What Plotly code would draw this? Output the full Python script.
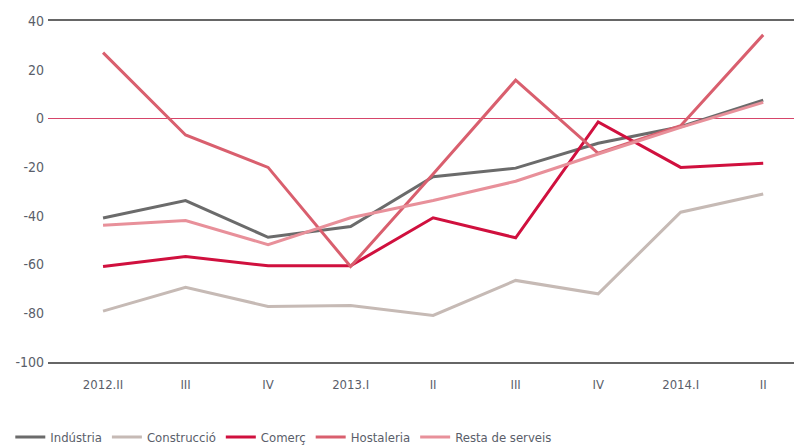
import plotly.graph_objects as go

categories = ["2012.II", "III", "IV", "2013.I", "II", "III", "IV", "2014.I", "II"]
tick_labels = ["2012.II", "III", "IV", "2013.I", "II", "III", "IV", "2014.I", "II"]
y_ticks = [40, 20, 0, -20, -40, -60, -80, -100]
y_tick_labels = ["40", "20", "0", "-20", "-40", "-60", "-80", "-100"]

industria = [-40.9, -33.7, -48.8, -44.4, -23.9, -20.4, -10.2, -3.4, 7.5]
construccio = [-79.1, -69.3, -77.2, -76.8, -80.9, -66.5, -72.0, -38.5, -31.0]
comerc = [-60.8, -56.7, -60.5, -60.5, -40.8, -49.0, -1.4, -20.1, -18.4]
hostaleria = [27.0, -6.8, -20.1, -60.8, -22.8, 15.7, -14.3, -3.0, 34.3]
resta = [-43.9, -41.9, -51.8, -40.8, -33.7, -25.8, -14.6, -3.7, 6.6]

series = [
    ("Indústria", industria, "#6b6b6b"),
    ("Construcció", construccio, "#c6bab5"),
    ("Comerç", comerc, "#d0103e"),
    ("Hostaleria", hostaleria, "#d95f6e"),
    ("Resta de serveis", resta, "#e8909a"),
]

FONT = "DejaVu Sans Condensed, Liberation Sans Narrow, Arial Narrow, sans-serif"

fig = go.Figure()
x_idx = list(range(len(categories)))
for name, vals, color in series:
    fig.add_trace(go.Scatter(
        x=x_idx, y=vals, name=name, mode="lines",
        line=dict(color=color, width=3),
    ))

# page body has an 8px margin, so the figure is sized to fill the rest of the window
fig.update_layout(
    width=794, height=439,
    margin=dict(l=40, r=0, t=13, b=85, autoexpand=False),
    paper_bgcolor="white", plot_bgcolor="white",
    font=dict(family=FONT, size=13, color="#5a5e6a"),
    showlegend=True,
    legend=dict(orientation="h", x=-0.05, xanchor="left", y=-0.22, yanchor="middle",
                font=dict(family=FONT, size=13, color="#5a5e6a"),
                itemwidth=30, tracegroupgap=0, bgcolor="rgba(0,0,0,0)"),
)
fig.update_xaxes(
    range=[-0.667, 8.47],
    tickmode="array", tickvals=x_idx, ticktext=tick_labels,
    showgrid=False, zeroline=False,
    showline=True, mirror=True, linecolor="#666666", linewidth=1.5,
    ticks="", ticklabelstandoff=10,
    tickfont=dict(family=FONT, size=13, color="#5a5e6a"),
)
fig.update_yaxes(
    range=[-100, 40],
    tickmode="array", tickvals=y_ticks, ticktext=y_tick_labels,
    showgrid=False,
    zeroline=True, zerolinecolor="#d6456a", zerolinewidth=1,
    showline=False, ticks="", ticklabelstandoff=3,
    tickfont=dict(family=FONT, size=14, color="#5a5e6a"),
)

fig.write_html("out.html")
